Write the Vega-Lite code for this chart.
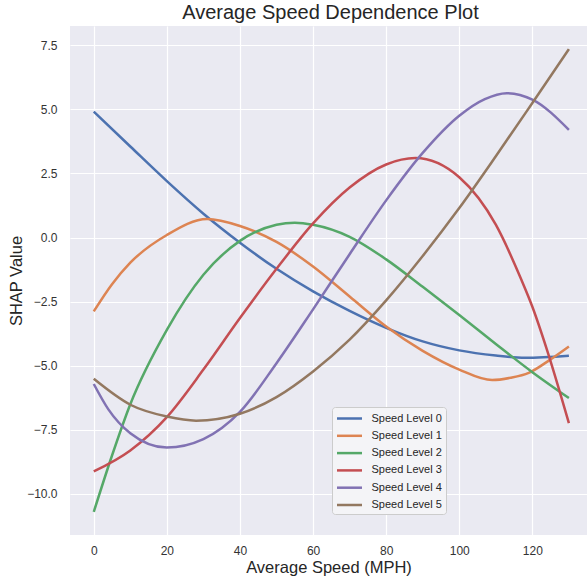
{
  "$schema": "https://vega.github.io/schema/vega-lite/v6.json",
  "autosize": "none",
  "width": 517,
  "height": 509,
  "padding": {"left": 70, "top": 26, "right": 0, "bottom": 42},
  "background": "white",
  "title": {
    "text": "Average Speed Dependence Plot",
    "font": "Liberation Sans",
    "fontSize": 20,
    "fontWeight": "normal",
    "color": "#262626",
    "anchor": "middle",
    "frame": "group",
    "offset": 3,
    "dx": 2
  },
  "config": {
    "view": {"fill": "#EAEAF2", "stroke": null},
    "axis": {
      "domain": false,
      "ticks": false,
      "tickSize": 0,
      "grid": true,
      "gridColor": "#FFFFFF",
      "gridWidth": 1.2,
      "labelFont": "Liberation Sans",
      "labelFontSize": 12,
      "labelColor": "#333333",
      "titleFont": "Liberation Sans",
      "titleFontSize": 16.5,
      "titleFontWeight": "normal",
      "titleColor": "#262626"
    },
    "legend": {
      "labelFont": "Liberation Sans",
      "labelFontSize": 11,
      "labelColor": "#262626"
    }
  },
  "data": {
    "values": [
      {"level": "Speed Level 0", "speed": 0, "shap": 4.91},
      {"level": "Speed Level 0", "speed": 10, "shap": 3.55},
      {"level": "Speed Level 0", "speed": 20, "shap": 2.2},
      {"level": "Speed Level 0", "speed": 30, "shap": 0.93},
      {"level": "Speed Level 0", "speed": 40, "shap": -0.2},
      {"level": "Speed Level 0", "speed": 50, "shap": -1.22},
      {"level": "Speed Level 0", "speed": 60, "shap": -2.1},
      {"level": "Speed Level 0", "speed": 70, "shap": -2.86},
      {"level": "Speed Level 0", "speed": 80, "shap": -3.52},
      {"level": "Speed Level 0", "speed": 90, "shap": -4.05},
      {"level": "Speed Level 0", "speed": 100, "shap": -4.4},
      {"level": "Speed Level 0", "speed": 110, "shap": -4.6},
      {"level": "Speed Level 0", "speed": 118, "shap": -4.69},
      {"level": "Speed Level 0", "speed": 130, "shap": -4.61},

      {"level": "Speed Level 1", "speed": 0, "shap": -2.88},
      {"level": "Speed Level 1", "speed": 5, "shap": -1.82},
      {"level": "Speed Level 1", "speed": 10, "shap": -0.98},
      {"level": "Speed Level 1", "speed": 20, "shap": 0.1},
      {"level": "Speed Level 1", "speed": 31, "shap": 0.72},
      {"level": "Speed Level 1", "speed": 40, "shap": 0.45},
      {"level": "Speed Level 1", "speed": 50, "shap": -0.17},
      {"level": "Speed Level 1", "speed": 60, "shap": -1.13},
      {"level": "Speed Level 1", "speed": 70, "shap": -2.3},
      {"level": "Speed Level 1", "speed": 80, "shap": -3.47},
      {"level": "Speed Level 1", "speed": 90, "shap": -4.42},
      {"level": "Speed Level 1", "speed": 100, "shap": -5.15},
      {"level": "Speed Level 1", "speed": 109, "shap": -5.56},
      {"level": "Speed Level 1", "speed": 114, "shap": -5.47},
      {"level": "Speed Level 1", "speed": 119, "shap": -5.28},
      {"level": "Speed Level 1", "speed": 124.5, "shap": -4.8},
      {"level": "Speed Level 1", "speed": 130, "shap": -4.25},

      {"level": "Speed Level 2", "speed": 0, "shap": -10.7},
      {"level": "Speed Level 2", "speed": 5, "shap": -8.5},
      {"level": "Speed Level 2", "speed": 10, "shap": -6.5},
      {"level": "Speed Level 2", "speed": 20, "shap": -3.6},
      {"level": "Speed Level 2", "speed": 30, "shap": -1.45},
      {"level": "Speed Level 2", "speed": 40, "shap": -0.13},
      {"level": "Speed Level 2", "speed": 50, "shap": 0.5},
      {"level": "Speed Level 2", "speed": 55, "shap": 0.58},
      {"level": "Speed Level 2", "speed": 60, "shap": 0.5},
      {"level": "Speed Level 2", "speed": 70, "shap": 0.03},
      {"level": "Speed Level 2", "speed": 80, "shap": -0.85},
      {"level": "Speed Level 2", "speed": 90, "shap": -1.92},
      {"level": "Speed Level 2", "speed": 100, "shap": -3.02},
      {"level": "Speed Level 2", "speed": 110, "shap": -4.15},
      {"level": "Speed Level 2", "speed": 120, "shap": -5.25},
      {"level": "Speed Level 2", "speed": 130, "shap": -6.26},

      {"level": "Speed Level 3", "speed": 0, "shap": -9.12},
      {"level": "Speed Level 3", "speed": 10, "shap": -8.3},
      {"level": "Speed Level 3", "speed": 20, "shap": -7.0},
      {"level": "Speed Level 3", "speed": 30, "shap": -5.15},
      {"level": "Speed Level 3", "speed": 40, "shap": -3.14},
      {"level": "Speed Level 3", "speed": 50, "shap": -1.22},
      {"level": "Speed Level 3", "speed": 60, "shap": 0.55},
      {"level": "Speed Level 3", "speed": 70, "shap": 1.95},
      {"level": "Speed Level 3", "speed": 80, "shap": 2.85},
      {"level": "Speed Level 3", "speed": 88, "shap": 3.1},
      {"level": "Speed Level 3", "speed": 100, "shap": 2.35},
      {"level": "Speed Level 3", "speed": 110, "shap": 0.5},
      {"level": "Speed Level 3", "speed": 117, "shap": -1.65},
      {"level": "Speed Level 3", "speed": 120, "shap": -2.7},
      {"level": "Speed Level 3", "speed": 124, "shap": -4.38},
      {"level": "Speed Level 3", "speed": 130, "shap": -7.24},

      {"level": "Speed Level 4", "speed": 0, "shap": -5.71},
      {"level": "Speed Level 4", "speed": 4, "shap": -6.7},
      {"level": "Speed Level 4", "speed": 10, "shap": -7.63},
      {"level": "Speed Level 4", "speed": 20, "shap": -8.19},
      {"level": "Speed Level 4", "speed": 30, "shap": -7.86},
      {"level": "Speed Level 4", "speed": 40, "shap": -6.8},
      {"level": "Speed Level 4", "speed": 50, "shap": -4.9},
      {"level": "Speed Level 4", "speed": 60, "shap": -2.8},
      {"level": "Speed Level 4", "speed": 70, "shap": -0.65},
      {"level": "Speed Level 4", "speed": 80, "shap": 1.45},
      {"level": "Speed Level 4", "speed": 90, "shap": 3.3},
      {"level": "Speed Level 4", "speed": 100, "shap": 4.75},
      {"level": "Speed Level 4", "speed": 107, "shap": 5.4},
      {"level": "Speed Level 4", "speed": 113, "shap": 5.63},
      {"level": "Speed Level 4", "speed": 120, "shap": 5.38},
      {"level": "Speed Level 4", "speed": 130, "shap": 4.2},

      {"level": "Speed Level 5", "speed": 0, "shap": -5.51},
      {"level": "Speed Level 5", "speed": 10, "shap": -6.52},
      {"level": "Speed Level 5", "speed": 20, "shap": -6.98},
      {"level": "Speed Level 5", "speed": 28, "shap": -7.14},
      {"level": "Speed Level 5", "speed": 40, "shap": -6.87},
      {"level": "Speed Level 5", "speed": 50, "shap": -6.22},
      {"level": "Speed Level 5", "speed": 60, "shap": -5.22},
      {"level": "Speed Level 5", "speed": 70, "shap": -3.98},
      {"level": "Speed Level 5", "speed": 80, "shap": -2.45},
      {"level": "Speed Level 5", "speed": 90, "shap": -0.72},
      {"level": "Speed Level 5", "speed": 100, "shap": 1.15},
      {"level": "Speed Level 5", "speed": 110, "shap": 3.17},
      {"level": "Speed Level 5", "speed": 120, "shap": 5.25},
      {"level": "Speed Level 5", "speed": 130, "shap": 7.35}
    ]
  },
  "mark": {"type": "line", "interpolate": "monotone", "strokeWidth": 2.5, "clip": true},
  "encoding": {
    "x": {
      "field": "speed",
      "type": "quantitative",
      "scale": {"domain": [-6.5, 134.95], "nice": false, "zero": false},
      "axis": {
        "title": "Average Speed (MPH)",
        "values": [0, 20, 40, 60, 80, 100, 120],
        "format": "d",
        "labelPadding": 10,
        "titlePadding": 3
      }
    },
    "y": {
      "field": "shap",
      "type": "quantitative",
      "scale": {"domain": [-11.6, 8.25], "nice": false, "zero": false},
      "axis": {
        "title": "SHAP Value",
        "values": [-10, -7.5, -5, -2.5, 0, 2.5, 5, 7.5],
        "format": ".1f",
        "labelPadding": 13,
        "titlePadding": 2
      }
    },
    "color": {
      "field": "level",
      "type": "nominal",
      "scale": {
        "domain": ["Speed Level 0", "Speed Level 1", "Speed Level 2", "Speed Level 3", "Speed Level 4", "Speed Level 5"],
        "range": ["#4C72B0", "#DD8452", "#55A868", "#C44E52", "#8172B3", "#937860"]
      },
      "legend": {
        "title": null,
        "orient": "none",
        "legendX": 262,
        "legendY": 381,
        "symbolType": "M-2,0H2",
        "symbolSize": 156,
        "symbolStrokeWidth": 2.5,
        "symbolOffset": 6,
        "labelOffset": 14.5,
        "rowPadding": 4.3,
        "padding": 4,
        "fillColor": "#F4F4F7",
        "strokeColor": "#CCCCCC",
        "cornerRadius": 3
      }
    }
  }
}
